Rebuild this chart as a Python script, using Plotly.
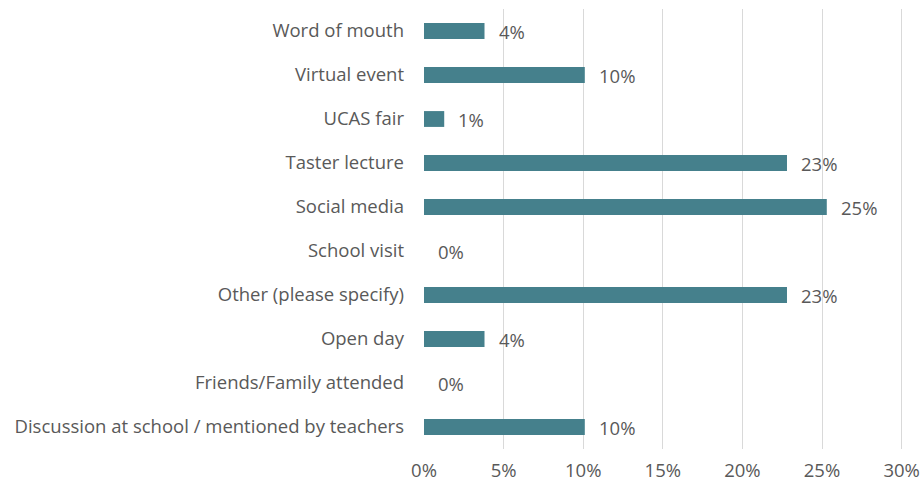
import plotly.graph_objects as go

categories = [
    "Discussion at school / mentioned by teachers",
    "Friends/Family attended",
    "Open day",
    "Other (please specify)",
    "School visit",
    "Social media",
    "Taster lecture",
    "UCAS fair",
    "Virtual event",
    "Word of mouth",
]
values = [0.101, 0.0, 0.038, 0.228, 0.0, 0.253, 0.228, 0.0127, 0.101, 0.038]
tick_vals = [0, 0.05, 0.10, 0.15, 0.20, 0.25, 0.30]
tick_text = ["0%", "5%", "10%", "15%", "20%", "25%", "30%"]

FONT = "Open Sans"
FS = 18.5
TXT = "#595959"
BAR = "#45808C"

fig = go.Figure()
fig.add_trace(go.Bar(
    x=values, y=categories, orientation="h",
    marker=dict(color=BAR, line=dict(width=0)),
    hoverinfo="x+y",
))

for c, v in zip(categories, values):
    fig.add_annotation(
        x=v, y=c, text=f"{v*100:.0f}%", showarrow=False,
        xanchor="left", xshift=12, yanchor="middle",
        font=dict(family=FONT, size=FS, color=TXT),
    )

fig.update_layout(
    width=923, height=489,
    margin=dict(l=424, r=19, t=9, b=40),
    paper_bgcolor="white", plot_bgcolor="white",
    bargap=0.64,
    showlegend=False,
    font=dict(family=FONT, size=FS, color=TXT),
    xaxis=dict(
        range=[0, 0.3015], tickvals=tick_vals, ticktext=tick_text,
        showgrid=True, gridcolor="#D9D9D9", gridwidth=1.3,
        zeroline=False, showline=False, ticks="", ticklabelstandoff=8,
        tickfont=dict(family=FONT, size=FS, color=TXT),
        ticklabeloverflow="allow",
        automargin=False,
    ),
    yaxis=dict(
        categoryorder="array", categoryarray=categories,
        showgrid=False, zeroline=False, showline=False,
        ticks="", ticklabelstandoff=19,
        tickfont=dict(family=FONT, size=FS, color=TXT),
        automargin=False,
    ),
)

fig.write_html(
    "out.html",
    config={"displayModeBar": False},
    post_script="document.body.style.margin='0';document.body.style.overflow='hidden';",
)
